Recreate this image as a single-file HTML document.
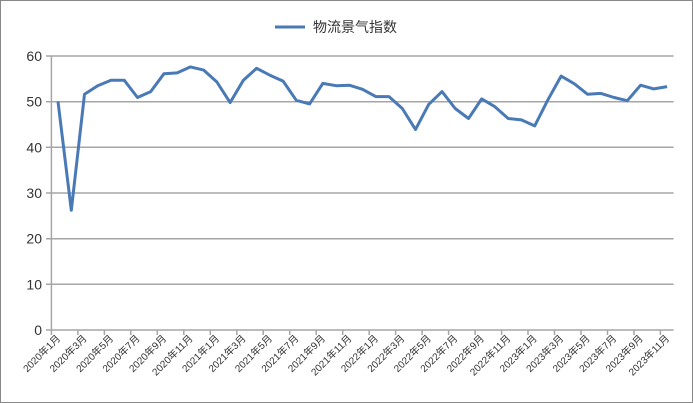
<!DOCTYPE html>
<html><head><meta charset="utf-8"><style>
html,body{margin:0;padding:0;background:#fff;}
svg{display:block;font-family:"Liberation Sans","Noto Sans CJK SC",sans-serif;}
</style></head><body>
<svg width="693" height="403" viewBox="0 0 693 403" xmlns="http://www.w3.org/2000/svg">
<rect x="0.5" y="0.5" width="692" height="402" fill="#fff" stroke="#888" stroke-width="1"/>
<g stroke="#a6a6a6" stroke-width="1.5">
<line x1="46" y1="56" x2="673.6" y2="56"/>
<line x1="46" y1="101.7" x2="673.6" y2="101.7"/>
<line x1="46" y1="147.3" x2="673.6" y2="147.3"/>
<line x1="46" y1="193" x2="673.6" y2="193"/>
<line x1="46" y1="238.7" x2="673.6" y2="238.7"/>
<line x1="46" y1="284.3" x2="673.6" y2="284.3"/>
<line x1="46" y1="330" x2="673.6" y2="330"/>
<line x1="51.4" y1="56" x2="51.4" y2="330"/>
<path d="M51.4 330v5M77.9 330v5M104.4 330v5M130.8 330v5M157.3 330v5M183.8 330v5M210.3 330v5M236.8 330v5M263.2 330v5M289.7 330v5M316.2 330v5M342.7 330v5M369.2 330v5M395.6 330v5M422.1 330v5M448.6 330v5M475.1 330v5M501.6 330v5M528 330v5M554.5 330v5M581 330v5M607.5 330v5M634 330v5M660.4 330v5"/>
</g>
<g font-size="14" fill="#333" text-anchor="end">
<text x="42" y="61">60</text>
<text x="42" y="106.7">50</text>
<text x="42" y="152.3">40</text>
<text x="42" y="198">30</text>
<text x="42" y="243.7">20</text>
<text x="42" y="289.3">10</text>
<text x="42" y="335">0</text>
</g>
<g font-size="10" fill="#333" text-anchor="end">
<text transform="translate(61,339) rotate(-45)">2020年1月</text>
<text transform="translate(87.5,339) rotate(-45)">2020年3月</text>
<text transform="translate(114,339) rotate(-45)">2020年5月</text>
<text transform="translate(140.4,339) rotate(-45)">2020年7月</text>
<text transform="translate(166.9,339) rotate(-45)">2020年9月</text>
<text transform="translate(193.4,339) rotate(-45)">2020年11月</text>
<text transform="translate(219.9,339) rotate(-45)">2021年1月</text>
<text transform="translate(246.4,339) rotate(-45)">2021年3月</text>
<text transform="translate(272.8,339) rotate(-45)">2021年5月</text>
<text transform="translate(299.3,339) rotate(-45)">2021年7月</text>
<text transform="translate(325.8,339) rotate(-45)">2021年9月</text>
<text transform="translate(352.3,339) rotate(-45)">2021年11月</text>
<text transform="translate(378.8,339) rotate(-45)">2022年1月</text>
<text transform="translate(405.2,339) rotate(-45)">2022年3月</text>
<text transform="translate(431.7,339) rotate(-45)">2022年5月</text>
<text transform="translate(458.2,339) rotate(-45)">2022年7月</text>
<text transform="translate(484.7,339) rotate(-45)">2022年9月</text>
<text transform="translate(511.2,339) rotate(-45)">2022年11月</text>
<text transform="translate(537.6,339) rotate(-45)">2023年1月</text>
<text transform="translate(564.1,339) rotate(-45)">2023年3月</text>
<text transform="translate(590.6,339) rotate(-45)">2023年5月</text>
<text transform="translate(617.1,339) rotate(-45)">2023年7月</text>
<text transform="translate(643.6,339) rotate(-45)">2023年9月</text>
<text transform="translate(670,339) rotate(-45)">2023年11月</text>
</g>
<polyline fill="none" stroke="#4a7ab5" stroke-width="3" stroke-linejoin="round" points="58,101.6 71.3,210.3 84.5,94.3 97.7,85.7 111,80.2 124.2,80.2 137.5,97.5 150.7,91.6 163.9,73.8 177.2,72.9 190.4,66.9 203.7,70.1 216.9,82 230.1,102.6 243.4,80.2 256.6,68.3 269.9,75.2 283.1,81.1 296.3,100.3 309.6,103.9 322.8,83.4 336.1,85.7 349.3,85.2 362.5,89.3 375.8,96.6 389,96.6 402.3,108.5 415.5,129.5 428.7,104.4 442,91.6 455.2,108.5 468.5,118.5 481.7,98.9 494.9,106.7 508.2,118.5 521.4,119.9 534.7,125.9 547.9,99.8 561.1,76.1 574.4,83.8 587.6,94.3 600.9,93.4 614.1,97.5 627.3,100.7 640.6,85.2 653.8,88.9 667.1,86.6"/>
<line x1="275" y1="27" x2="305" y2="27" stroke="#4a7ab5" stroke-width="3"/>
<text x="313" y="32" font-size="14" fill="#333">物流景气指数</text>
</svg>
</body></html>
